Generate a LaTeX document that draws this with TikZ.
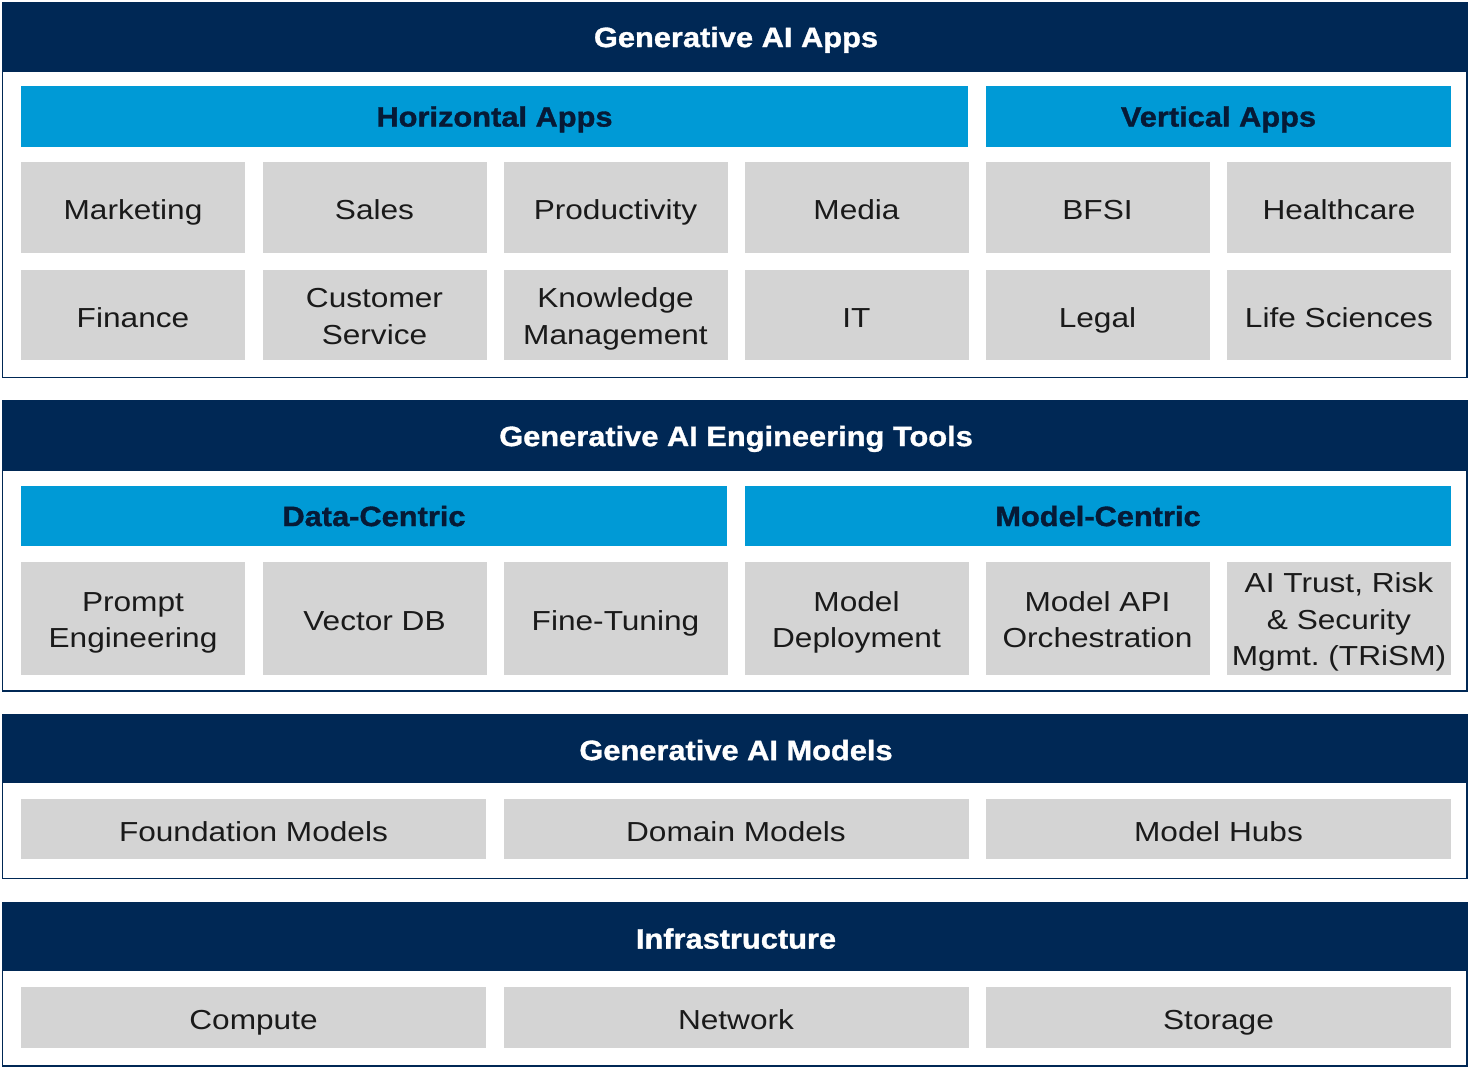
\documentclass[tikz,border=0pt]{standalone}
\usepackage{fontspec}
\setmainfont{Liberation Sans}[FakeStretch=1.15]
\newfontfamily\hdfont{Liberation Sans}[FakeStretch=1.1,BoldFeatures={FakeBold=1.2}]
\frenchspacing
\newcommand\capstrut{\rule[-0.28em]{0pt}{1.28em}}
\newcommand\topstrut[1]{\rule[-0.28em]{0pt}{\dimexpr 1.28em+#1\relax}}
\definecolor{navy}{HTML}{002855}
\definecolor{bar}{HTML}{009AD6}
\definecolor{cellgray}{HTML}{D4D4D4}
\definecolor{ink}{HTML}{1A1A1A}
\definecolor{barink}{HTML}{061A36}
\tikzset{
  panel/.style={draw=navy, line width=1.3pt, fill=white},
  header/.style={fill=navy},
  centred/.style={execute at begin node=\capstrut, execute at end node=\capstrut},
  title/.style={centred, text=white, font=\hdfont\bfseries\fontsize{28}{34}\selectfont, inner sep=0pt},
  barbox/.style={centred, fill=bar, text=barink, font=\hdfont\bfseries\fontsize{28}{34}\selectfont, inner sep=0pt, outer sep=0pt},
  cellbase/.style={fill=cellgray, text=ink, font=\fontsize{27.5}{36.5}\selectfont, align=center, inner sep=0pt, outer sep=0pt},
  cell/.style={cellbase, execute at begin node=\topstrut{5pt}, execute at end node=\capstrut},
  celltwo/.style={cellbase, text height=66.2pt, text depth=8pt},
  cellthree/.style={cellbase, text height=102.7pt, text depth=8pt},
}
\begin{document}
\begin{tikzpicture}[x=1pt,y=-1pt]
\useasboundingbox (0,0) rectangle (1468,1067);
% ---------- Section 1 ----------
\draw[panel] (2.5,2.5) rectangle (1467,377.5);
\fill[header] (2.5,2.5) rectangle (1467,72);
\node[title] (t1) at (736,37) {Generative AI Apps};
\node[barbox, minimum width=947pt, minimum height=61pt] (hz) at (494.5,116.5) {Horizontal Apps};
\node[barbox, minimum width=465pt, minimum height=61pt] (vt) at (1218.5,116.5) {Vertical Apps};
\foreach \n/\x/\t in {mk/133/Marketing, sl/374.5/Sales, pr/615.5/Productivity, md/856.5/Media, bf/1097.5/BFSI, hc/1339/Healthcare}
  \node[cell, minimum width=224pt, minimum height=91pt] (\n) at (\x,207.5) {\t};
\foreach \n/\x/\t in {fi/133/Finance, it/856.5/IT, lg/1097.5/Legal, ls/1339/Life Sciences}
  \node[cell, minimum width=224pt, minimum height=90pt] (\n) at (\x,315) {\t};
\foreach \n/\x/\t in {cs/374.5/{Customer\\Service}, km/615.5/{Knowledge\\Management}}
  \node[celltwo, minimum width=224pt, minimum height=90pt] (\n) at (\x,315) {\t};
% ---------- Section 2 ----------
\draw[panel] (2.5,400.5) rectangle (1467,691);
\fill[header] (2.5,400.5) rectangle (1467,471);
\node[title] (t2) at (736,436) {Generative AI Engineering Tools};
\node[barbox, minimum width=706pt, minimum height=60pt] (dc) at (374,516) {Data-Centric};
\node[barbox, minimum width=706pt, minimum height=60pt] (mc) at (1098,516) {Model-Centric};
\foreach \n/\x/\t in {vd/374.5/Vector DB, ft/615.5/Fine-Tuning}
  \node[cell, minimum width=224pt, minimum height=113pt] (\n) at (\x,618.5) {\t};
\foreach \n/\x/\t in {pe/133/{Prompt\\Engineering}, de/856.5/{Model\\Deployment}, ao/1097.5/{Model API\\Orchestration}}
  \node[celltwo, minimum width=224pt, minimum height=113pt] (\n) at (\x,618.5) {\t};
\node[cellthree, minimum width=224pt, minimum height=113pt] (tr) at (1339,618.5) {AI Trust, Risk\\\& Security\\Mgmt. (TRiSM)};
% ---------- Section 3 ----------
\draw[panel] (2.5,714.5) rectangle (1467,878.5);
\fill[header] (2.5,714.5) rectangle (1467,783);
\node[title] (t3) at (736,750) {Generative AI Models};
\foreach \n/\x/\t in {fm/253.5/Foundation Models, dm/736/Domain Models, mh/1218.5/Model Hubs}
  \node[cell, minimum width=465pt, minimum height=60pt] (\n) at (\x,829) {\t};
% ---------- Section 4 ----------
\draw[panel] (2.5,902.5) rectangle (1467,1066);
\fill[header] (2.5,902.5) rectangle (1467,971);
\node[title] (t4) at (736,938.5) {Infrastructure};
\foreach \n/\x/\t in {cp/253.5/Compute, nw/736/Network, st/1218.5/Storage}
  \node[cell, minimum width=465pt, minimum height=61pt] (\n) at (\x,1017.5) {\t};
\end{tikzpicture}
\end{document}
